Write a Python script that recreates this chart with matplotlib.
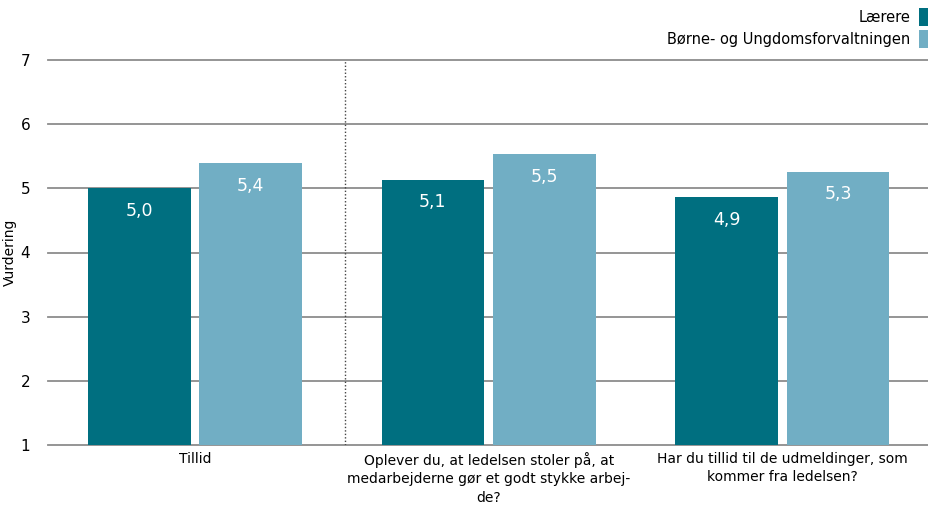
import numpy as np
import matplotlib.pyplot as plt

categories = ["Tillid",
              "Oplever du, at ledelsen stoler på, at\nmedarbejderne gør et godt stykke arbej-\nde?",
              "Har du tillid til de udmeldinger, som\nkommer fra ledelsen?"]
series = ["Lærere", "Børne- og Ungdomsforvaltningen"]
laerere = [5.0, 5.13, 4.86]
buf = [5.39, 5.53, 5.26]
colors = ["#006F80", "#71AEC4"]

plt.rcParams["font.family"] = ["DejaVu Sans"]
fig = plt.figure(figsize=(9.29, 5.05), dpi=100)
ax = fig.add_axes([0.052, 0.119, 0.948, 0.762])

x = np.arange(len(categories))
w = 0.35
off = 0.19
for vals, c, lab, dx in [(laerere, colors[0], series[0], -off), (buf, colors[1], series[1], off)]:
    bars = ax.bar(x + dx, vals, width=w, bottom=0, color=c, label=lab, zorder=3)
    for b, v in zip(bars, vals):
        ax.annotate(f"{v:.1f}".replace(".", ","), (b.get_x() + b.get_width() / 2, v),
                    xytext=(0, -16), textcoords="offset points", ha="center", va="center",
                    color="white", fontsize=12.5, zorder=4)

ax.set_ylim(1, 7)
ax.set_xlim(-0.5, 2.5)
ax.set_yticks(range(1, 8))
for t in range(1, 8):
    ax.axhline(t, color="#8c8c8c", linewidth=1.3, zorder=1, clip_on=False)
for s in ax.spines.values():
    s.set_visible(False)
ax.tick_params(length=0, labelsize=11)
ax.tick_params(axis="y", pad=13)
ax.tick_params(axis="x", pad=5)
ax.set_xticks(x)
ax.set_xticklabels(categories, fontsize=10, linespacing=1.4)
ax.set_ylabel("Vurdering", fontsize=10)
ax.yaxis.set_label_coords(-0.036, 0.5)
ax.axvline(0.51, color="#444444", linestyle=(0, (1, 1.5)), linewidth=1, zorder=1)

leg = ax.legend(loc="lower right", bbox_to_anchor=(1.013, 1.005), frameon=False, markerfirst=False,
                fontsize=10.5, handlelength=0.75, handleheight=1.5, handletextpad=0.6,
                labelspacing=0.3, borderaxespad=0.5, borderpad=0.2)

fig.savefig("out.png", dpi=100)
